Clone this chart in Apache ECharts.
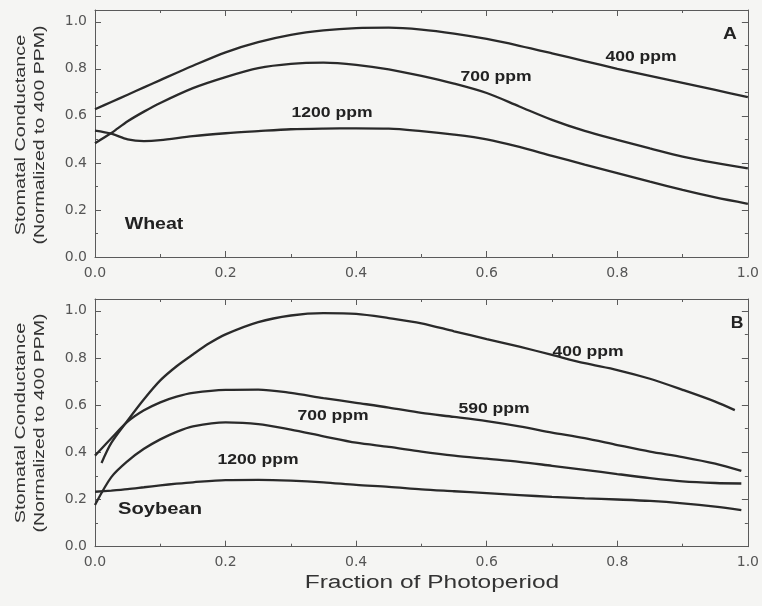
<!DOCTYPE html>
<html>
<head>
<meta charset="utf-8">
<script src="https://cdn.jsdelivr.net/npm/echarts@6/dist/echarts.min.js"></script>
<style>
html,body{margin:0;padding:0;background:#f5f5f3;}
#chart{width:762px;height:606px;}
</style>
</head>
<body>
<div id="chart"></div>
<script>
// ---- Data ----
const xTicks = [0, 0.2, 0.4, 0.6, 0.8, 1.0];
const yTicks = [0, 0.2, 0.4, 0.6, 0.8, 1.0];

// Panel A: Wheat
const wheatX    = [0, 0.025, 0.05, 0.075, 0.1, 0.15, 0.2, 0.25, 0.3, 0.35, 0.4, 0.45, 0.5, 0.55, 0.6, 0.65, 0.7, 0.75, 0.8, 0.85, 0.9, 0.95, 1.0];
const wheat400  = [0.628, 0.659, 0.69, 0.721, 0.752, 0.813, 0.87, 0.913, 0.944, 0.963, 0.973, 0.975, 0.967, 0.95, 0.927, 0.898, 0.866, 0.833, 0.8, 0.77, 0.74, 0.71, 0.68];
const wheat700  = [0.484, 0.527, 0.577, 0.618, 0.655, 0.718, 0.765, 0.803, 0.821, 0.826, 0.817, 0.798, 0.77, 0.737, 0.697, 0.64, 0.583, 0.536, 0.498, 0.462, 0.427, 0.4, 0.377];
const wheat1200 = [0.537, 0.524, 0.5, 0.493, 0.497, 0.514, 0.526, 0.535, 0.543, 0.546, 0.547, 0.546, 0.535, 0.52, 0.5, 0.468, 0.43, 0.393, 0.357, 0.32, 0.285, 0.253, 0.226];

// Panel B: Soybean
const soyX400  = [0.01, 0.025, 0.05, 0.075, 0.1, 0.125, 0.15, 0.175, 0.2, 0.25, 0.3, 0.35, 0.4, 0.45, 0.5, 0.55, 0.6, 0.65, 0.7, 0.75, 0.8, 0.85, 0.9, 0.95, 0.98];
const soy400   = [0.355, 0.44, 0.535, 0.625, 0.705, 0.765, 0.815, 0.862, 0.9, 0.952, 0.98, 0.99, 0.987, 0.969, 0.947, 0.913, 0.88, 0.848, 0.813, 0.778, 0.749, 0.712, 0.665, 0.615, 0.579];
const soyX     = [0, 0.025, 0.05, 0.075, 0.1, 0.125, 0.15, 0.2, 0.25, 0.3, 0.35, 0.4, 0.45, 0.5, 0.55, 0.6, 0.65, 0.7, 0.75, 0.8, 0.85, 0.9, 0.95, 0.99];
const soy590   = [0.386, 0.46, 0.53, 0.578, 0.612, 0.636, 0.652, 0.665, 0.666, 0.652, 0.63, 0.61, 0.59, 0.567, 0.55, 0.532, 0.51, 0.484, 0.46, 0.431, 0.403, 0.38, 0.352, 0.321];
const soy700   = [0.177, 0.295, 0.363, 0.415, 0.455, 0.487, 0.51, 0.527, 0.52, 0.496, 0.468, 0.441, 0.423, 0.403, 0.386, 0.373, 0.36, 0.343, 0.326, 0.308, 0.291, 0.277, 0.27, 0.268];
const soy1200  = [0.233, 0.238, 0.244, 0.252, 0.26, 0.267, 0.273, 0.282, 0.283, 0.28, 0.273, 0.262, 0.254, 0.243, 0.235, 0.227, 0.219, 0.211, 0.205, 0.2, 0.194, 0.184, 0.17, 0.155];

const zip = (xs, ys) => xs.map((x, i) => [x, ys[i]]);

// ---- Styles ----
const frameColor = '#5a5a5a';
const curveColor = '#2a2a2a';
const tickFont = 'DejaVu Sans';

function xAxesFor(gi) {
  const base = {gridIndex: gi, type: 'value', min: 0, max: 1, splitLine: {show: false}};
  const line = {show: true, onZero: false, lineStyle: {color: frameColor, width: 1}};
  return [
    Object.assign({}, base, {position: 'bottom', interval: 0.2, axisLine: line,
      axisTick: {show: true, inside: true, length: 6, lineStyle: {color: frameColor}},
      axisLabel: {show: true, margin: 9, fontFamily: tickFont, fontSize: 14, color: '#555',
        formatter: v => xTicks.some(t => Math.abs(t - v) < 1e-6) ? v.toFixed(1) : ''}}),
    Object.assign({}, base, {position: 'top', interval: 0.2, axisLine: line,
      axisTick: {show: true, inside: true, length: 6, lineStyle: {color: frameColor}},
      axisLabel: {show: false}}),
    Object.assign({}, base, {position: 'bottom', interval: 0.1, axisLine: {show: false, onZero: false},
      axisTick: {show: true, inside: true, length: 3, lineStyle: {color: frameColor}},
      axisLabel: {show: false}}),
    Object.assign({}, base, {position: 'top', interval: 0.1, axisLine: {show: false, onZero: false},
      axisTick: {show: true, inside: true, length: 3, lineStyle: {color: frameColor}},
      axisLabel: {show: false}})
  ];
}
function yAxesFor(gi) {
  const base = {gridIndex: gi, type: 'value', min: 0, max: 1.05, splitLine: {show: false}};
  const line = {show: true, onZero: false, lineStyle: {color: frameColor, width: 1}};
  return [
    Object.assign({}, base, {position: 'left', interval: 0.2, axisLine: line,
      axisTick: {show: true, inside: true, length: 6, lineStyle: {color: frameColor}},
      axisLabel: {show: true, margin: 8, fontFamily: tickFont, fontSize: 14, color: '#555',
        formatter: v => yTicks.some(t => Math.abs(t - v) < 1e-6) ? v.toFixed(1) : ''}}),
    Object.assign({}, base, {position: 'right', interval: 0.2, axisLine: line,
      axisTick: {show: true, inside: true, length: 6, lineStyle: {color: frameColor}},
      axisLabel: {show: false}}),
    Object.assign({}, base, {position: 'left', interval: 0.1, axisLine: {show: false, onZero: false},
      axisTick: {show: true, inside: true, length: 3, lineStyle: {color: frameColor}},
      axisLabel: {show: false}}),
    Object.assign({}, base, {position: 'right', interval: 0.1, axisLine: {show: false, onZero: false},
      axisTick: {show: true, inside: true, length: 3, lineStyle: {color: frameColor}},
      axisLabel: {show: false}})
  ];
}

function curve(name, data, gi) {
  return {
    name: name, type: 'line', data: data,
    xAxisIndex: gi * 4, yAxisIndex: gi * 4,
    showSymbol: false, smooth: 0.3, silent: true,
    lineStyle: {color: curveColor, width: 2.3},
    animation: false
  };
}

function label(text, x, y, opts) {
  opts = opts || {};
  return {
    type: 'text', x: x, y: y,
    rotation: opts.rotation || 0,
    scaleX: opts.scaleX || 1.17, scaleY: 1,
    style: {
      text: text,
      font: (opts.weight || 'bold') + ' ' + (opts.size || 15) + 'px "Liberation Sans", Arial, sans-serif',
      fill: opts.color || '#222',
      align: 'center', verticalAlign: 'middle'
    },
    silent: true
  };
}

const chart = echarts.init(document.getElementById('chart'), null, {renderer: 'canvas'});
chart.setOption({
  backgroundColor: '#f5f5f3',
  animation: false,
  grid: [
    {left: 95, top: 10, width: 656, height: 247, containLabel: false},
    {left: 95, top: 299, width: 654, height: 247.7, containLabel: false}
  ],
  xAxis: xAxesFor(0).concat(xAxesFor(1)),
  yAxis: yAxesFor(0).concat(yAxesFor(1)),
  series: [
    curve('Wheat 400 ppm', zip(wheatX, wheat400), 0),
    curve('Wheat 700 ppm', zip(wheatX, wheat700), 0),
    curve('Wheat 1200 ppm', zip(wheatX, wheat1200), 0),
    curve('Soybean 400 ppm', zip(soyX400, soy400), 1),
    curve('Soybean 590 ppm', zip(soyX, soy590), 1),
    curve('Soybean 700 ppm', zip(soyX, soy700), 1),
    curve('Soybean 1200 ppm', zip(soyX, soy1200), 1)
  ],
  graphic: [
    // panel A annotations
    label('400 ppm', 641, 57),
    label('700 ppm', 496, 77),
    label('1200 ppm', 332, 113),
    label('Wheat', 154, 224, {size: 17, scaleX: 1.15}),
    label('A', 730, 35, {size: 16, scaleX: 1.2}),
    // panel B annotations
    label('B', 737, 324, {size: 16, scaleX: 1.1}),
    label('400 ppm', 588, 352),
    label('590 ppm', 494, 409),
    label('700 ppm', 333, 416),
    label('1200 ppm', 258, 460),
    label('Soybean', 160, 510, {size: 16, scaleX: 1.26}),
    // axis titles
    label('Stomatal Conductance', 21, 135, {rotation: Math.PI / 2, weight: 'normal', size: 15, scaleX: 1.32, color: '#333'}),
    label('(Normalized to 400 PPM)', 40, 135, {rotation: Math.PI / 2, weight: 'normal', size: 15, scaleX: 1.3, color: '#333'}),
    label('Stomatal Conductance', 21, 423, {rotation: Math.PI / 2, weight: 'normal', size: 15, scaleX: 1.32, color: '#333'}),
    label('(Normalized to 400 PPM)', 40, 423, {rotation: Math.PI / 2, weight: 'normal', size: 15, scaleX: 1.3, color: '#333'}),
    label('Fraction of Photoperiod', 432, 583, {weight: 'normal', size: 18, scaleX: 1.36, color: '#333'})
  ]
});
</script>
</body>
</html>
